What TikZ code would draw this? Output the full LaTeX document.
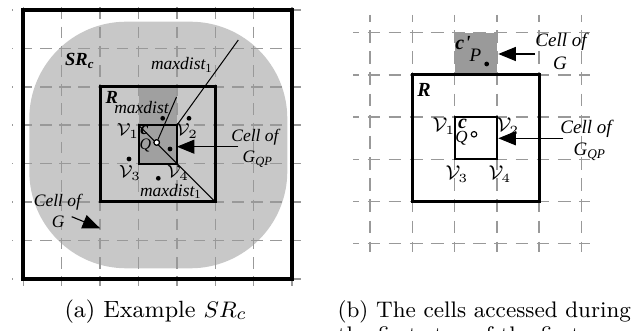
\documentclass[tikz,border=0pt]{standalone}
\usepackage{fontspec}
\newfontfamily\tms{Liberation Serif}
\usetikzlibrary{arrows.meta}
\definecolor{blobgray}{HTML}{C8C8C8}
\definecolor{colgray}{HTML}{A0A0A0}
\definecolor{cellgray}{HTML}{9A9A9A}
\definecolor{gridgray}{HTML}{999999}
\tikzset{
  lab/.style={font=\tms\itshape\fontsize{7}{8}\selectfont, inner sep=0pt},
  labr/.style={font=\tms\itshape\fontsize{7.6}{9}\selectfont, inner sep=0pt},
  boldlab/.style={font=\tms\bfseries\itshape\fontsize{7.4}{8}\selectfont, inner sep=0pt},
  boldlabr/.style={font=\tms\bfseries\itshape\fontsize{8}{9}\selectfont, inner sep=0pt},
  gridh/.style={draw=gridgray, line width=0.6pt, dash pattern=on 4.6pt off 3.08pt, dash phase=4.16pt},
  gridv/.style={draw=gridgray, line width=0.6pt, dash pattern=on 4.6pt off 3.08pt, dash phase=4.68pt},
  gridhr/.style={draw=gridgray, line width=0.6pt, dash pattern=on 5.1pt off 3.36pt, dash phase=2.66pt},
  gridvr/.style={draw=gridgray, line width=0.6pt, dash pattern=on 5.1pt off 3.36pt, dash phase=2.38pt},
  outerbox/.style={draw=black, line width=1.6pt},
  rbox/.style={draw=black, line width=1.2pt},
  cbox/.style={draw=black, line width=0.8pt},
  thinline/.style={draw=black, line width=0.4pt},
  pointer/.style={draw=black, line width=0.45pt, -{Triangle[length=7pt,width=5.6pt]}},
  pdot/.style={circle, fill=black, inner sep=0pt, minimum size=1.9pt},
  qdot/.style={circle, draw=black, fill=white, line width=0.45pt, inner sep=0pt, minimum size=2.2pt},
  captext/.style={anchor=base west, inner sep=0pt, font=\fontsize{9.4}{11}\selectfont}
}
\begin{document}
\begin{tikzpicture}[x=0.4pt,y=-0.4pt]
\useasboundingbox (0,0) rectangle (631,331);
\clip (0,0) rectangle (631,331);

% ---------------- left figure (a) ----------------
\begin{scope}
\fill[blobgray, rounded corners=38.8pt] (29.3,21.7) rectangle (287.3,268.3);
\end{scope}
\fill[colgray, sharp corners] (138.5,86.8) rectangle (176.9,163.6);
\foreach \i in {0,...,7} {
  \draw[gridv] ({23.3+38.4*\i},0) -- ({23.3+38.4*\i},286);
  \draw[gridh] (12,{10+38.4*\i}) -- (302,{10+38.4*\i});
}
\draw[outerbox] (23.3,10) rectangle (292.1,278.8);
\draw[rbox] (100.1,86.8) rectangle (215.3,202);
\draw[cbox] (138.5,125.2) rectangle (176.9,163.6);

\coordinate (aV1) at (138.5,125.2);
\coordinate (aV2) at (176.9,125.2);
\coordinate (aRbr) at (215.3,202);
\coordinate (aTop) at (238.3,40);
\coordinate (aQend) at (176.5,97);
\coordinate (aCeast) at (176.9,146.7);
\coordinate (aArrS) at (238.3,146.7);
\coordinate (aGS) at (71.7,216.7);
\coordinate (aGE) at (100.1,228.3);

\node[qdot] (aQ) at (156.7,142.5) {};
\draw[thinline] (aV1) -- (aRbr);
\draw[thinline] (aV2) -- (aTop);
\draw[thinline] (aQ) -- (aQend);
\node[qdot] at (aQ) {};

\node[pdot] (ad1) at (162.7,118.3) {};
\node[pdot] (ad2) at (189,118.3) {};
\node[pdot] (ad3) at (170,149) {};
\node[pdot] (ad4) at (129,159) {};
\node[pdot] (ad5) at (158.3,178.3) {};

\node[boldlab] (aSR) at (80,61) {SR\textsubscript{c}};
\node[boldlab] (aR) at (111.7,97.5) {R};
\node[lab] (aRsub) at (141.5,107.5) {maxdist};
\node[lab] (alV1) at (128,131) {$\mathcal{V}_1$};
\node[lab] (alV2) at (187,131) {$\mathcal{V}_2$};
\node[lab] (alV3) at (130,173) {$\mathcal{V}_3$};
\node[lab] (alV4) at (178,173) {$\mathcal{V}_4$};
\node[boldlab] (alc) at (144.5,130.5) {c};
\node[lab, font=\tms\itshape\fontsize{6.4}{7}\selectfont] (alQ) at (145.5,145.5) {Q};
\node[lab] (amd1) at (171,191.5) {maxdist\textsubscript{\upshape 1}};
\node[lab] (amd2) at (182,65) {maxdist\textsubscript{\upshape 1}};
\node[lab] (acell1) at (255,137) {Cell of};
\node[lab] (agqp) at (258,159) {G\textsubscript{QP}};
\node[lab] (acell2) at (57.5,202) {Cell of};
\node[lab] (ag) at (58.3,221.7) {G};
\draw[pointer] (aArrS) -- (aCeast);
\draw[pointer] (aGS) -- (aGE);

% ---------------- right figure (b) ----------------
\fill[cellgray, sharp corners] (454.6,32.7) rectangle (496.9,74.9);
\foreach \i in {0,...,5} {
  \draw[gridvr] ({370+42.3*\i},15) -- ({370+42.3*\i},252);
  \draw[gridhr] (353,{32.7+42.2*\i}) -- (590,{32.7+42.2*\i});
}
\draw[rbox] (412.3,74.9) rectangle (539.2,201.5);
\draw[cbox] (454.6,117.1) rectangle (496.9,159.3);

\coordinate (bCpE) at (498.3,54);
\coordinate (bArr1S) at (535,54);
\coordinate (bCE) at (498.3,138.3);
\coordinate (bArr2S) at (563.3,138.3);

\node[boldlabr] (bcp) at (463,43) {c\kern0.3pt\raisebox{0.3pt}{'}};
\node[labr] (bP) at (475.5,55) {P};
\node[pdot] (bdot) at (486.7,64) {};
\node[labr] (bcell1) at (561,42) {Cell of};
\node[labr] (bg) at (560,63.3) {G};
\draw[pointer] (bArr1S) -- (bCpE);

\node[boldlabr] (bR) at (424,90) {R};
\node[labr] (blV1) at (444,126) {$\mathcal{V}_1$};
\node[labr] (blV2) at (508,126) {$\mathcal{V}_2$};
\node[labr] (blV3) at (457,174) {$\mathcal{V}_3$};
\node[labr] (blV4) at (500,174) {$\mathcal{V}_4$};
\node[boldlabr] (blc) at (462.5,124) {c};
\node[labr, font=\tms\itshape\fontsize{6.8}{8}\selectfont] (blQ) at (461.5,138.5) {Q};
\node[qdot] (bQ) at (474,134.3) {};
\node[labr] (bcell2) at (586,129) {Cell of};
\node[labr] (bgqp) at (590,152) {G\textsubscript{QP}};
\draw[pointer] (bArr2S) -- (bCE);

% ---------------- captions ----------------
\node[captext] (capa) at (64,317) {(a) Example $SR_c$};
\node[captext, font=\fontsize{9}{11}\selectfont] (capb) at (337,317) {(b) The cells accessed during};
\node[captext, font=\fontsize{9}{11}\selectfont] (capb2) at (337,342) {the first step of the first};
\end{tikzpicture}
\end{document}
